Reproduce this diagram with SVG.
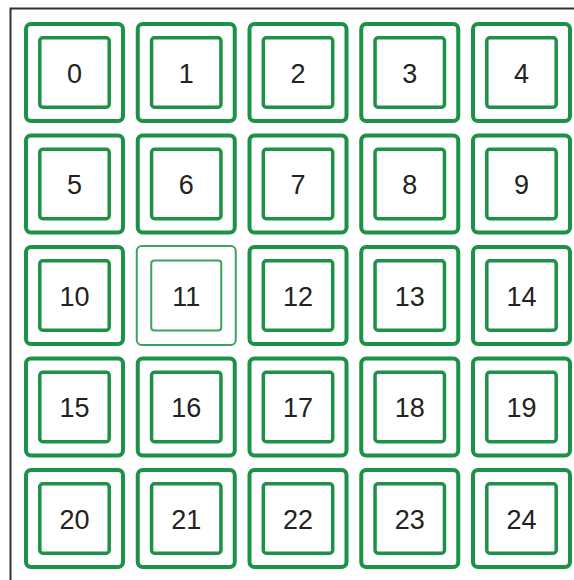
<svg xmlns="http://www.w3.org/2000/svg" width="574" height="580" viewBox="0 0 574 580">
<style>
.o{fill:none;stroke:#1d9147;stroke-width:4}
.i{fill:none;stroke:#1d9147;stroke-width:3.5}
.lo{fill:none;stroke:#3ca35e;stroke-width:2}
.li{fill:none;stroke:#3ca35e;stroke-width:2}
text{font-family:"Liberation Sans",Arial,sans-serif;font-size:27px;fill:#222;text-anchor:middle}
</style>
<defs>
<g id="cell"><rect class="o" x="-48.5" y="-48.5" width="97" height="97" rx="5"/><rect class="i" x="-34.7" y="-34.7" width="69.4" height="69.4" rx="3"/></g>
<g id="cellL"><rect class="lo" x="-49.5" y="-49.5" width="99" height="99" rx="5"/><rect class="li" x="-35" y="-35" width="70" height="70" rx="3"/></g>
</defs>
<rect width="574" height="580" fill="#fff"/>
<g id="frame" fill="none" stroke="#333" stroke-width="2"><path d="M10.5,580 V8.5 H574"/></g>
<g id="n0" transform="translate(74.5,72.5)"><use href="#cell"/><text y="10">0</text></g>
<g id="n1" transform="translate(186.25,72.5)"><use href="#cell"/><text y="10">1</text></g>
<g id="n2" transform="translate(298,72.5)"><use href="#cell"/><text y="10">2</text></g>
<g id="n3" transform="translate(409.75,72.5)"><use href="#cell"/><text y="10">3</text></g>
<g id="n4" transform="translate(521.5,72.5)"><use href="#cell"/><text y="10">4</text></g>
<g id="n5" transform="translate(74.5,184)"><use href="#cell"/><text y="10">5</text></g>
<g id="n6" transform="translate(186.25,184)"><use href="#cell"/><text y="10">6</text></g>
<g id="n7" transform="translate(298,184)"><use href="#cell"/><text y="10">7</text></g>
<g id="n8" transform="translate(409.75,184)"><use href="#cell"/><text y="10">8</text></g>
<g id="n9" transform="translate(521.5,184)"><use href="#cell"/><text y="10">9</text></g>
<g id="n10" transform="translate(74.5,295.5)"><use href="#cell"/><text y="10">10</text></g>
<g id="n11" transform="translate(186.25,295.5)"><use href="#cellL"/><text y="10">11</text></g>
<g id="n12" transform="translate(298,295.5)"><use href="#cell"/><text y="10">12</text></g>
<g id="n13" transform="translate(409.75,295.5)"><use href="#cell"/><text y="10">13</text></g>
<g id="n14" transform="translate(521.5,295.5)"><use href="#cell"/><text y="10">14</text></g>
<g id="n15" transform="translate(74.5,407)"><use href="#cell"/><text y="10">15</text></g>
<g id="n16" transform="translate(186.25,407)"><use href="#cell"/><text y="10">16</text></g>
<g id="n17" transform="translate(298,407)"><use href="#cell"/><text y="10">17</text></g>
<g id="n18" transform="translate(409.75,407)"><use href="#cell"/><text y="10">18</text></g>
<g id="n19" transform="translate(521.5,407)"><use href="#cell"/><text y="10">19</text></g>
<g id="n20" transform="translate(74.5,518.5)"><use href="#cell"/><text y="10">20</text></g>
<g id="n21" transform="translate(186.25,518.5)"><use href="#cell"/><text y="10">21</text></g>
<g id="n22" transform="translate(298,518.5)"><use href="#cell"/><text y="10">22</text></g>
<g id="n23" transform="translate(409.75,518.5)"><use href="#cell"/><text y="10">23</text></g>
<g id="n24" transform="translate(521.5,518.5)"><use href="#cell"/><text y="10">24</text></g>
<g id="connectors"/>
</svg>
